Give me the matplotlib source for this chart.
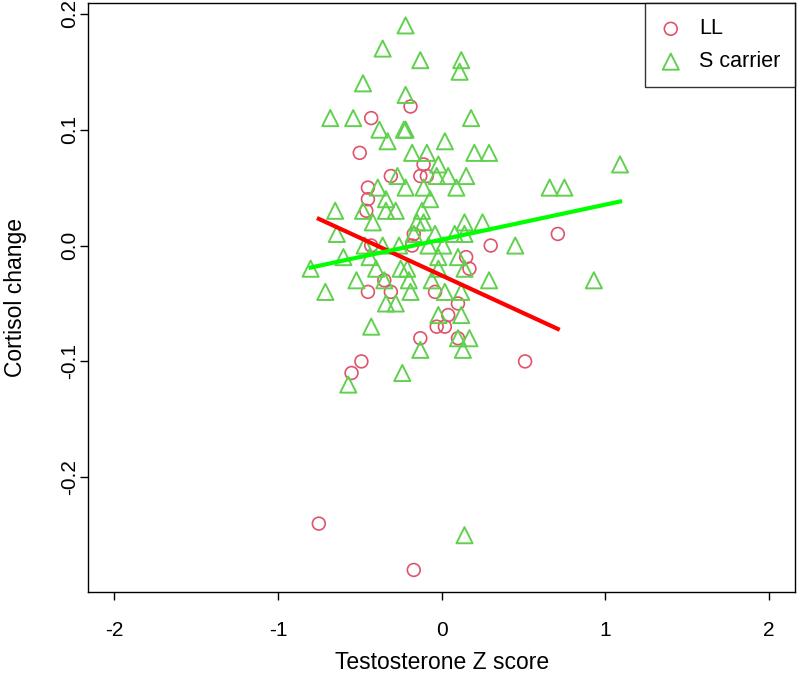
import matplotlib
matplotlib.use("Agg")
import matplotlib.pyplot as plt

plt.rcParams['font.family'] = ['Liberation Sans', 'DejaVu Sans']

# LL group (red circles)
ll_x = [-0.43, -0.19, -0.50, -0.31, -0.11, -0.13, -0.09, -0.45, -0.45, -0.46,
        -0.17, -0.18, -0.43, 0.30, 0.71, 0.15, 0.17, -0.35, -0.45, -0.31,
        -0.04, 0.10, 0.04, -0.03, 0.02, -0.13, 0.10, -0.49, -0.55, 0.51,
        -0.75, -0.17]
ll_y = [0.11, 0.12, 0.08, 0.06, 0.07, 0.06, 0.06, 0.05, 0.04, 0.03,
        0.01, 0.00, 0.00, 0.00, 0.01, -0.01, -0.02, -0.03, -0.04, -0.04,
        -0.04, -0.05, -0.06, -0.07, -0.07, -0.08, -0.08, -0.10, -0.11, -0.10,
        -0.24, -0.28]

# S carrier group (green triangles)
s_x = [-0.22, -0.36, -0.13, 0.12, 0.11, -0.48, -0.22,
       -0.68, -0.54, 0.18, -0.38, -0.23, -0.22, -0.33, 0.02,
       -0.18, -0.09, 0.20, 0.29, -0.02, 1.09,
       -0.27, -0.03, 0.04, 0.15,
       -0.39, -0.22, -0.11, 0.09, 0.66, 0.75,
       -0.34, -0.07,
       -0.65, -0.48, -0.34, -0.28, -0.12,
       -0.42, -0.15, -0.11, 0.14, 0.25,
       -0.64, -0.17, -0.04, 0.08, 0.14,
       -0.47, -0.36, -0.26, -0.08, 0.01, 0.45,
       -0.60, -0.44, -0.02, 0.10,
       -0.80, -0.40, -0.25, -0.21, -0.02, 0.14,
       -0.52, -0.35, -0.20, -0.06, 0.29, 0.93,
       -0.71, -0.19, 0.02, 0.12,
       -0.34, -0.28, -0.02, 0.12, -0.43,
       0.10, 0.17, -0.13, 0.13, -0.24, -0.57, 0.14]
s_y = [0.19, 0.17, 0.16, 0.16, 0.15, 0.14, 0.13,
       0.11, 0.11, 0.11, 0.10, 0.10, 0.10, 0.09, 0.09,
       0.08, 0.08, 0.08, 0.08, 0.07, 0.07,
       0.06, 0.06, 0.06, 0.06,
       0.05, 0.05, 0.05, 0.05, 0.05, 0.05,
       0.04, 0.04,
       0.03, 0.03, 0.03, 0.03, 0.03,
       0.02, 0.02, 0.02, 0.02, 0.02,
       0.01, 0.01, 0.01, 0.01, 0.01,
       0.00, 0.00, 0.00, 0.00, 0.00, 0.00,
       -0.01, -0.01, -0.01, -0.01,
       -0.02, -0.02, -0.02, -0.02, -0.02, -0.02,
       -0.03, -0.03, -0.03, -0.03, -0.03, -0.03,
       -0.04, -0.04, -0.04, -0.04,
       -0.05, -0.05, -0.06, -0.06, -0.07,
       -0.08, -0.08, -0.09, -0.09, -0.11, -0.12, -0.25]

# fitted lines
ll_fit_x = [-0.75, 0.71]
ll_fit_y = [0.023, -0.072]
s_fit_x = [-0.80, 1.09]
s_fit_y = [-0.019, 0.038]

xticks = [-2, -1, 0, 1, 2]
xtick_labels = ["-2", "-1", "0", "1", "2"]
yticks = [-0.2, -0.1, 0.0, 0.1, 0.2]
ytick_labels = ["-0.2", "-0.1", "0.0", "0.1", "0.2"]

fig = plt.figure(figsize=(8, 6.75), dpi=100)
ax = fig.add_axes([0.11, 0.123, 0.884, 0.872])

ax.scatter(ll_x, ll_y, s=85, marker='o', facecolors='none',
           edgecolors='#DF536B', linewidths=1.2, label='LL', zorder=3)
ax.scatter(s_x, s_y, s=135, marker='^', facecolors='none',
           edgecolors='#61D04F', linewidths=1.4, label='S carrier', zorder=3)
ax.plot(ll_fit_x, ll_fit_y, color='#FF0000', lw=3, zorder=4)
ax.plot(s_fit_x, s_fit_y, color='#00FF00', lw=3, zorder=4)

ax.set_xlim(-2.16, 2.16)
ax.set_ylim(-0.299, 0.209)
ax.set_xticks(xticks)
ax.set_xticklabels(xtick_labels)
ax.set_yticks(yticks)
ax.set_yticklabels(ytick_labels, rotation=90, va='center')
ax.tick_params(direction='out', length=6, width=1, labelsize=15)
ax.tick_params(axis='x', pad=15)
ax.tick_params(axis='y', pad=0.5)
for sp in ax.spines.values():
    sp.set_linewidth(1)

ax.set_xlabel('Testosterone Z score', fontsize=16.5)
ax.set_ylabel('Cortisol change', fontsize=16.5)
ax.xaxis.set_label_coords(0.5, -0.119)
ax.xaxis.label.set_va('center')
ax.yaxis.set_label_coords(-0.103, 0.5)
ax.yaxis.label.set_va('center')

leg = ax.legend(loc='upper right', borderaxespad=0, fancybox=False,
                edgecolor='black', fontsize=15.5, handletextpad=0.8,
                handlelength=1.0, borderpad=0.7, labelspacing=0.55,
                scatterpoints=1)
leg.get_frame().set_linewidth(1)

fig.savefig('out.png', dpi=100)
